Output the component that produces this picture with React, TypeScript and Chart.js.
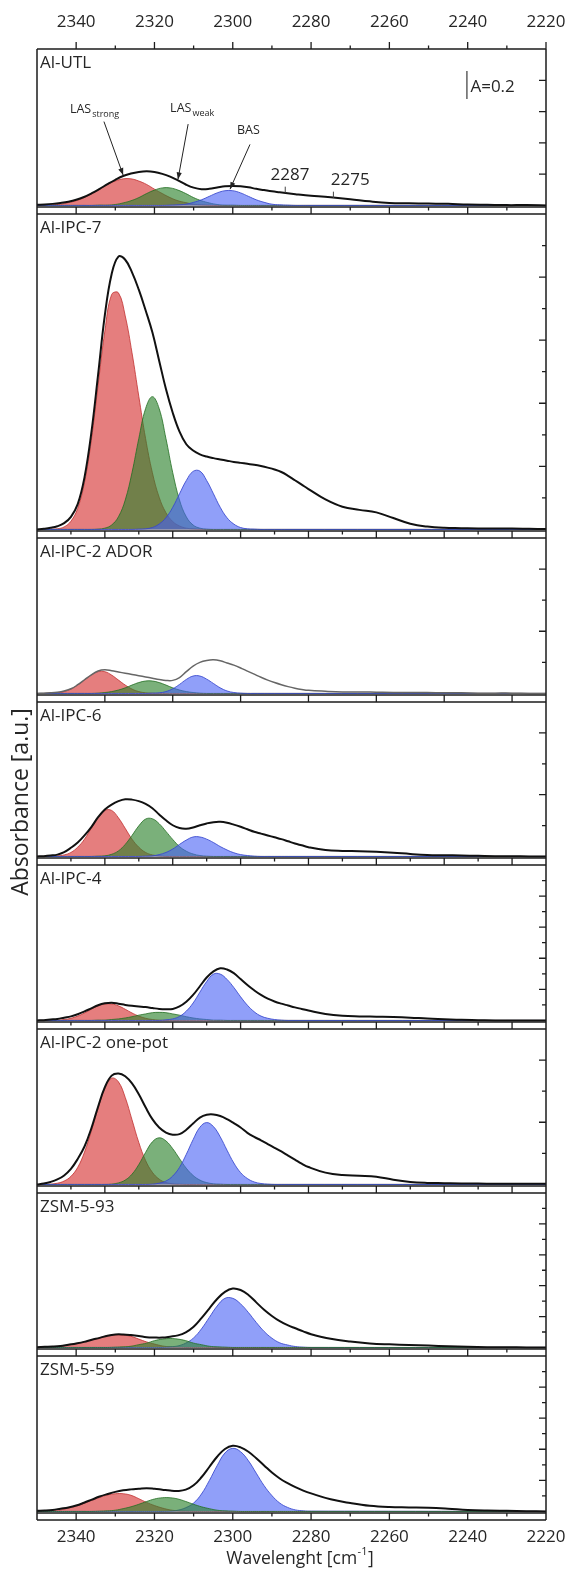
import React, { useEffect, useRef } from 'react';
import { Chart, registerables } from 'chart.js';

Chart.register(...registerables);

// ---------- wavenumber grids (cm-1) ----------
const GRID_A = [2350, 2348, 2346, 2344, 2342, 2340, 2338, 2336, 2334, 2332, 2330, 2328, 2326, 2324, 2322, 2320, 2318, 2316, 2314, 2312, 2310, 2308, 2306, 2304, 2302, 2300, 2298, 2296, 2294, 2292, 2290, 2288, 2286, 2284, 2282, 2280, 2220];
const GRID_B = [2360, 2358, 2356, 2354, 2352, 2350, 2348, 2346, 2344, 2342, 2340, 2338, 2336, 2334, 2332, 2330, 2328, 2326, 2324, 2322, 2320, 2318, 2316, 2314, 2312, 2310, 2308, 2306, 2304, 2302, 2300, 2298, 2296, 2294, 2292, 2290, 2288, 2286, 2210];
const TOTAL_GRID_A = [2350, 2348, 2346, 2344, 2342, 2340, 2338, 2336, 2334, 2332, 2330, 2328, 2326, 2324, 2322, 2320, 2318, 2316, 2314, 2312, 2310, 2308, 2306, 2304, 2302, 2300, 2298, 2296, 2294, 2292, 2290, 2288, 2286, 2284, 2282, 2280, 2275, 2270, 2265, 2260, 2255, 2250, 2245, 2240, 2235, 2230, 2225, 2220];
const TOTAL_GRID_B = [2360, 2358, 2356, 2354, 2352, 2350, 2348, 2346, 2344, 2342, 2340, 2338, 2336, 2334, 2332, 2330, 2328, 2326, 2324, 2322, 2320, 2318, 2316, 2314, 2312, 2310, 2308, 2306, 2304, 2302, 2300, 2298, 2296, 2294, 2292, 2290, 2288, 2286, 2284, 2282, 2280, 2275, 2270, 2265, 2260, 2255, 2250, 2245, 2240, 2235, 2230, 2225, 2220, 2215, 2210];

// ---------- Al-UTL ----------
const UTL_RED = [0, 0.01, 0.02, 0.04, 0.09, 0.15, 0.25, 0.38, 0.52, 0.67, 0.78, 0.85, 0.85, 0.78, 0.67, 0.52, 0.38, 0.25, 0.15, 0.09, 0.04, 0.02, 0.01, 0, 0, 0, 0, 0, 0, 0, 0, 0, 0, 0, 0, 0, 0];
const UTL_GREEN = [0, 0, 0, 0, 0, 0, 0, 0, 0.01, 0.01, 0.03, 0.08, 0.15, 0.25, 0.38, 0.49, 0.56, 0.56, 0.49, 0.38, 0.25, 0.15, 0.08, 0.03, 0.01, 0.01, 0, 0, 0, 0, 0, 0, 0, 0, 0, 0, 0];
const UTL_BLUE = [0, 0, 0, 0, 0, 0, 0, 0, 0, 0, 0, 0, 0, 0, 0, 0, 0, 0.01, 0.02, 0.04, 0.10, 0.18, 0.29, 0.40, 0.47, 0.47, 0.40, 0.29, 0.18, 0.10, 0.04, 0.02, 0.01, 0, 0, 0, 0];
const UTL_TOTAL = [0.02, 0.03, 0.05, 0.08, 0.12, 0.18, 0.27, 0.39, 0.53, 0.68, 0.82, 0.94, 1.02, 1.07, 1.09, 1.07, 1.01, 0.92, 0.80, 0.67, 0.57, 0.52, 0.53, 0.57, 0.61, 0.62, 0.61, 0.58, 0.53, 0.49, 0.45, 0.42, 0.39, 0.36, 0.33, 0.31, 0.26, 0.20, 0.13, 0.08, 0.07, 0.06, 0.05, 0.03, 0.02, 0.01, 0.01, 0];

// ---------- Al-IPC-7 ----------
const IPC7_RED = [0, 0, 0.01, 0.02, 0.08, 0.26, 0.67, 1.49, 2.82, 4.57, 6.29, 7.45, 7.50, 6.77, 5.60, 4.22, 2.88, 1.80, 1.02, 0.53, 0.25, 0.11, 0.04, 0.02, 0.01, 0, 0, 0, 0, 0, 0, 0, 0, 0, 0, 0, 0, 0, 0];
const IPC7_GREEN = [0, 0, 0, 0, 0, 0, 0, 0, 0, 0.01, 0.04, 0.14, 0.40, 0.93, 1.80, 2.88, 3.83, 4.21, 3.83, 2.88, 1.80, 0.93, 0.40, 0.14, 0.04, 0.01, 0, 0, 0, 0, 0, 0, 0, 0, 0, 0, 0, 0, 0];
const IPC7_BLUE = [0, 0, 0, 0, 0, 0, 0, 0, 0, 0, 0, 0, 0, 0, 0, 0.01, 0.02, 0.06, 0.17, 0.37, 0.70, 1.13, 1.55, 1.84, 1.85, 1.55, 1.13, 0.70, 0.37, 0.17, 0.06, 0.02, 0.01, 0, 0, 0, 0, 0, 0];
const IPC7_TOTAL = [0, 0.02, 0.05, 0.10, 0.20, 0.40, 0.80, 1.65, 3.05, 4.90, 6.80, 8.10, 8.65, 8.55, 8.15, 7.60, 6.95, 6.25, 5.35, 4.45, 3.70, 3.10, 2.70, 2.50, 2.38, 2.31, 2.26, 2.22, 2.18, 2.14, 2.11, 2.08, 2.05, 2.01, 1.96, 1.90, 1.82, 1.70, 1.56, 1.42, 1.28, 0.95, 0.72, 0.62, 0.54, 0.36, 0.18, 0.09, 0.05, 0.04, 0.03, 0.03, 0.03, 0.02, 0.01];

// ---------- Al-IPC-2 ADOR ----------
const ADOR_RED = [0, 0, 0.01, 0.02, 0.06, 0.14, 0.27, 0.43, 0.59, 0.70, 0.70, 0.59, 0.43, 0.27, 0.14, 0.06, 0.02, 0.01, 0, 0, 0, 0, 0, 0, 0, 0, 0, 0, 0, 0, 0, 0, 0, 0, 0, 0, 0, 0, 0];
const ADOR_GREEN = [0, 0, 0, 0, 0, 0, 0, 0, 0, 0.01, 0.03, 0.06, 0.11, 0.18, 0.27, 0.35, 0.40, 0.40, 0.35, 0.27, 0.18, 0.11, 0.06, 0.03, 0.01, 0, 0, 0, 0, 0, 0, 0, 0, 0, 0, 0, 0, 0, 0];
const ADOR_BLUE = [0, 0, 0, 0, 0, 0, 0, 0, 0, 0, 0, 0, 0, 0, 0, 0, 0, 0.01, 0.02, 0.06, 0.15, 0.29, 0.45, 0.56, 0.56, 0.46, 0.32, 0.18, 0.08, 0.03, 0.01, 0, 0, 0, 0, 0, 0, 0, 0];
const ADOR_TOTAL = [0, 0.01, 0.02, 0.04, 0.08, 0.15, 0.28, 0.44, 0.60, 0.72, 0.76, 0.73, 0.69, 0.65, 0.61, 0.57, 0.53, 0.49, 0.45, 0.42, 0.42, 0.51, 0.70, 0.88, 1.00, 1.06, 1.08, 1.05, 0.98, 0.91, 0.82, 0.72, 0.62, 0.52, 0.43, 0.35, 0.28, 0.22, 0.17, 0.13, 0.10, 0.07, 0.05, 0.05, 0.04, 0.03, 0.03, 0.03, 0.02, 0.02, 0.01, 0.01, 0.01, 0, 0];

// ---------- Al-IPC-6 ----------
const IPC6_RED = [0, 0, 0.01, 0.02, 0.05, 0.13, 0.30, 0.56, 0.91, 1.25, 1.49, 1.49, 1.25, 0.91, 0.56, 0.30, 0.13, 0.05, 0.02, 0, 0, 0, 0, 0, 0, 0, 0, 0, 0, 0, 0, 0, 0, 0, 0, 0, 0, 0, 0];
const IPC6_GREEN = [0, 0, 0, 0, 0, 0, 0, 0, 0, 0.01, 0.02, 0.07, 0.18, 0.39, 0.68, 0.99, 1.21, 1.22, 1.06, 0.81, 0.55, 0.32, 0.17, 0.08, 0.03, 0.01, 0, 0, 0, 0, 0, 0, 0, 0, 0, 0, 0, 0, 0];
const IPC6_BLUE = [0, 0, 0, 0, 0, 0, 0, 0, 0, 0, 0, 0, 0, 0, 0, 0, 0.01, 0.02, 0.06, 0.13, 0.24, 0.39, 0.53, 0.63, 0.63, 0.56, 0.45, 0.32, 0.21, 0.12, 0.06, 0.03, 0.01, 0, 0, 0, 0, 0, 0];
const IPC6_TOTAL = [0, 0.01, 0.03, 0.06, 0.14, 0.28, 0.45, 0.68, 0.95, 1.27, 1.52, 1.68, 1.79, 1.85, 1.84, 1.79, 1.70, 1.56, 1.36, 1.17, 1.01, 0.92, 0.90, 0.94, 1.01, 1.07, 1.11, 1.12, 1.09, 1.03, 0.96, 0.88, 0.80, 0.74, 0.68, 0.62, 0.56, 0.49, 0.42, 0.36, 0.30, 0.21, 0.18, 0.17, 0.15, 0.12, 0.08, 0.05, 0.04, 0.03, 0.02, 0.01, 0.01, 0, 0];

// ---------- Al-IPC-4 ----------
const IPC4_RED = [0, 0, 0, 0.01, 0.03, 0.07, 0.14, 0.24, 0.36, 0.47, 0.53, 0.53, 0.47, 0.36, 0.24, 0.14, 0.07, 0.03, 0.01, 0, 0, 0, 0, 0, 0, 0, 0, 0, 0, 0, 0, 0, 0, 0, 0, 0, 0, 0, 0];
const IPC4_GREEN = [0, 0, 0, 0, 0, 0, 0, 0, 0, 0.01, 0.01, 0.03, 0.05, 0.08, 0.12, 0.17, 0.21, 0.25, 0.26, 0.25, 0.21, 0.17, 0.12, 0.08, 0.05, 0.03, 0.01, 0.01, 0, 0, 0, 0, 0, 0, 0, 0, 0, 0, 0];
const IPC4_BLUE = [0, 0, 0, 0, 0, 0, 0, 0, 0, 0, 0, 0, 0, 0, 0, 0, 0, 0, 0, 0.02, 0.05, 0.13, 0.30, 0.56, 0.91, 1.25, 1.49, 1.49, 1.32, 1.06, 0.76, 0.49, 0.28, 0.14, 0.07, 0.03, 0.01, 0, 0];
const IPC4_TOTAL = [0, 0.01, 0.03, 0.05, 0.09, 0.13, 0.20, 0.29, 0.39, 0.49, 0.55, 0.57, 0.54, 0.50, 0.47, 0.45, 0.43, 0.40, 0.37, 0.36, 0.37, 0.45, 0.60, 0.82, 1.10, 1.38, 1.58, 1.68, 1.64, 1.52, 1.33, 1.14, 0.97, 0.82, 0.70, 0.61, 0.54, 0.48, 0.42, 0.37, 0.32, 0.21, 0.15, 0.13, 0.12, 0.11, 0.09, 0.06, 0.04, 0.02, 0.01, 0, 0, 0, 0];

// ---------- Al-IPC-2 one-pot ----------
const ONEPOT_RED = [0, 0, 0.01, 0.04, 0.11, 0.26, 0.55, 1.04, 1.71, 2.45, 3.09, 3.42, 3.30, 2.80, 2.08, 1.35, 0.77, 0.39, 0.17, 0.06, 0.02, 0.01, 0, 0, 0, 0, 0, 0, 0, 0, 0, 0, 0, 0, 0, 0, 0, 0, 0];
const ONEPOT_GREEN = [0, 0, 0, 0, 0, 0, 0, 0, 0, 0, 0, 0.01, 0.05, 0.14, 0.33, 0.64, 1.03, 1.37, 1.50, 1.40, 1.15, 0.83, 0.52, 0.29, 0.14, 0.06, 0.02, 0.01, 0, 0, 0, 0, 0, 0, 0, 0, 0, 0, 0];
const ONEPOT_BLUE = [0, 0, 0, 0, 0, 0, 0, 0, 0, 0, 0, 0, 0, 0, 0, 0, 0, 0.01, 0.04, 0.11, 0.27, 0.55, 0.97, 1.44, 1.84, 1.99, 1.86, 1.53, 1.10, 0.69, 0.38, 0.19, 0.08, 0.03, 0.01, 0, 0, 0, 0];
const ONEPOT_TOTAL = [0, 0.03, 0.08, 0.16, 0.29, 0.50, 0.82, 1.22, 1.80, 2.50, 3.13, 3.50, 3.57, 3.48, 3.25, 2.90, 2.48, 2.10, 1.83, 1.67, 1.60, 1.62, 1.76, 1.96, 2.15, 2.24, 2.25, 2.20, 2.10, 1.97, 1.83, 1.66, 1.53, 1.42, 1.30, 1.18, 1.06, 0.93, 0.80, 0.67, 0.56, 0.38, 0.30, 0.28, 0.25, 0.15, 0.08, 0.05, 0.04, 0.03, 0.03, 0.02, 0.02, 0.02, 0.02];

// ---------- ZSM-5-93 ----------
const ZSM93_RED = [0, 0.01, 0.02, 0.04, 0.08, 0.12, 0.18, 0.25, 0.31, 0.38, 0.41, 0.40, 0.36, 0.27, 0.18, 0.11, 0.05, 0.02, 0.01, 0, 0, 0, 0, 0, 0, 0, 0, 0, 0, 0, 0, 0, 0, 0, 0, 0, 0];
const ZSM93_GREEN = [0, 0, 0, 0, 0, 0, 0, 0, 0, 0, 0.01, 0.02, 0.04, 0.09, 0.14, 0.22, 0.27, 0.29, 0.27, 0.22, 0.14, 0.09, 0.04, 0.02, 0.01, 0, 0, 0, 0, 0, 0, 0, 0, 0, 0, 0, 0];
const ZSM93_BLUE = [0, 0, 0, 0, 0, 0, 0, 0, 0, 0, 0, 0, 0, 0, 0, 0, 0, 0.02, 0.05, 0.14, 0.31, 0.60, 0.97, 1.34, 1.59, 1.59, 1.41, 1.13, 0.81, 0.52, 0.30, 0.15, 0.08, 0.03, 0.01, 0, 0];
const ZSM93_TOTAL = [0.01, 0.02, 0.03, 0.05, 0.09, 0.13, 0.18, 0.25, 0.31, 0.38, 0.42, 0.42, 0.40, 0.37, 0.33, 0.32, 0.32, 0.35, 0.39, 0.49, 0.67, 0.95, 1.26, 1.57, 1.80, 1.91, 1.86, 1.70, 1.46, 1.22, 1.02, 0.85, 0.72, 0.62, 0.52, 0.43, 0.28, 0.19, 0.13, 0.10, 0.08, 0.06, 0.04, 0.02, 0.01, 0.01, 0, 0];

// ---------- ZSM-5-59 ----------
const ZSM59_RED = [0.01, 0.01, 0.03, 0.05, 0.11, 0.17, 0.26, 0.36, 0.45, 0.53, 0.57, 0.57, 0.52, 0.41, 0.29, 0.19, 0.11, 0.05, 0.02, 0.01, 0, 0, 0, 0, 0, 0, 0, 0, 0, 0, 0, 0, 0, 0, 0, 0, 0];
const ZSM59_GREEN = [0, 0, 0, 0, 0, 0, 0, 0, 0.01, 0.02, 0.04, 0.09, 0.15, 0.23, 0.32, 0.40, 0.44, 0.44, 0.40, 0.32, 0.23, 0.15, 0.09, 0.04, 0.02, 0.01, 0, 0, 0, 0, 0, 0, 0, 0, 0, 0, 0];
const ZSM59_BLUE = [0, 0, 0, 0, 0, 0, 0, 0, 0, 0, 0, 0, 0, 0, 0, 0, 0, 0.01, 0.04, 0.12, 0.27, 0.56, 0.99, 1.47, 1.88, 2.03, 1.92, 1.63, 1.23, 0.83, 0.51, 0.27, 0.13, 0.05, 0.02, 0.01, 0];
const ZSM59_TOTAL = [0.02, 0.03, 0.05, 0.09, 0.13, 0.19, 0.28, 0.38, 0.48, 0.56, 0.63, 0.68, 0.71, 0.73, 0.75, 0.73, 0.70, 0.67, 0.66, 0.70, 0.84, 1.10, 1.43, 1.76, 2.01, 2.11, 2.06, 1.92, 1.71, 1.48, 1.25, 1.06, 0.91, 0.78, 0.67, 0.58, 0.39, 0.27, 0.18, 0.14, 0.13, 0.12, 0.09, 0.05, 0.03, 0.02, 0.01, 0];

// ---------- labels ----------
const PANEL_NAMES = ['Al-UTL', 'Al-IPC-7', 'Al-IPC-2 ADOR', 'Al-IPC-6', 'Al-IPC-4', 'Al-IPC-2 one-pot', 'ZSM-5-93', 'ZSM-5-59'];
const X_TICK_LABELS = [2340, 2320, 2300, 2280, 2260, 2240, 2220];
const X_TITLE = 'Wavelenght [cm';
const X_TITLE_SUP = '-1';
const Y_TITLE = 'Absorbance [a.u.]';
const SCALE_LABEL = 'A=0.2';
const UTL_NOTES = [
  { main: 'LAS', sub: 'strong', x: 2341.6, y: 3.07, align: 'left', ax: 2332.9, ay: 2.68, bx: 2328.0, by: 0.97 },
  { main: 'LAS', sub: 'weak', x: 2316.0, y: 3.1, align: 'left', ax: 2311.4, ay: 2.6, bx: 2314.0, by: 0.83 },
  { main: 'BAS', sub: '', x: 2296.0, y: 2.41, align: 'center', ax: 2295.6, ay: 1.95, bx: 2300.7, by: 0.52 },
];
const UTL_BANDS = [
  { label: '2287', x: 2285.4, y: 0.96, mark: 2286.6, y0: 0.40, y1: 0.60 },
  { label: '2275', x: 2270.0, y: 0.80, mark: 2274.3, y0: 0.24, y1: 0.44 },
];

// ---------- layout / style ----------
const W = 572;
const H = 1571;
const FRAME_LEFT = 37;
const FRAME_RIGHT = 546;
const BAND = 7;
const FONT = "'Open Sans', 'Noto Sans', sans-serif";
const TEXT = '#262626';
const LINE = '#1d1d1d';
const RED = { fill: 'rgba(212,40,40,0.6)', line: 'rgba(190,40,40,0.75)' };
const GREEN = { fill: 'rgba(44,130,44,0.63)', line: 'rgba(34,110,34,0.8)' };
const BLUE = { fill: 'rgba(70,95,245,0.6)', line: 'rgba(55,70,205,0.85)' };

type Panel = {
  name: string; top: number; base: number; xMin: number; xMax: number; yMax: number;
  grid: number[]; red: number[]; green: number[]; blue: number[];
  totalGrid: number[]; total: number[]; totalColor: string; totalWidth: number;
  tickStep: number; longMod: number; greenOnTop?: boolean; majorOnly?: boolean;
};

const PANELS: Panel[] = [
  { name: PANEL_NAMES[0], top: 49, base: 207, xMin: 2220, xMax: 2350, yMax: 5, grid: GRID_A, red: UTL_RED, green: UTL_GREEN, blue: UTL_BLUE, totalGrid: TOTAL_GRID_A, total: UTL_TOTAL, totalColor: '#111', totalWidth: 2, tickStep: 1, longMod: 1 },
  { name: PANEL_NAMES[1], top: 214, base: 531, xMin: 2210, xMax: 2360, yMax: 10, grid: GRID_B, red: IPC7_RED, green: IPC7_GREEN, blue: IPC7_BLUE, totalGrid: TOTAL_GRID_B, total: IPC7_TOTAL, totalColor: '#111', totalWidth: 2, tickStep: 1, longMod: 2 },
  { name: PANEL_NAMES[2], top: 538, base: 695, xMin: 2210, xMax: 2360, yMax: 5, grid: GRID_B, red: ADOR_RED, green: ADOR_GREEN, blue: ADOR_BLUE, totalGrid: TOTAL_GRID_B, total: ADOR_TOTAL, totalColor: '#666', totalWidth: 1.5, tickStep: 1, longMod: 2, majorOnly: true },
  { name: PANEL_NAMES[3], top: 702, base: 858, xMin: 2210, xMax: 2360, yMax: 5, grid: GRID_B, red: IPC6_RED, green: IPC6_GREEN, blue: IPC6_BLUE, totalGrid: TOTAL_GRID_B, total: IPC6_TOTAL, totalColor: '#111', totalWidth: 2, tickStep: 1, longMod: 2 },
  { name: PANEL_NAMES[4], top: 865, base: 1022, xMin: 2210, xMax: 2360, yMax: 5, grid: GRID_B, red: IPC4_RED, green: IPC4_GREEN, blue: IPC4_BLUE, totalGrid: TOTAL_GRID_B, total: IPC4_TOTAL, totalColor: '#111', totalWidth: 2, tickStep: 0.5, longMod: 1 },
  { name: PANEL_NAMES[5], top: 1029, base: 1186, xMin: 2210, xMax: 2360, yMax: 5, grid: GRID_B, red: ONEPOT_RED, green: ONEPOT_GREEN, blue: ONEPOT_BLUE, totalGrid: TOTAL_GRID_B, total: ONEPOT_TOTAL, totalColor: '#111', totalWidth: 2, tickStep: 1, longMod: 2 },
  { name: PANEL_NAMES[6], top: 1193, base: 1349, xMin: 2220, xMax: 2350, yMax: 5, grid: GRID_A, red: ZSM93_RED, green: ZSM93_GREEN, blue: ZSM93_BLUE, totalGrid: TOTAL_GRID_A, total: ZSM93_TOTAL, totalColor: '#111', totalWidth: 2, tickStep: 0.5, longMod: 1, greenOnTop: true },
  { name: PANEL_NAMES[7], top: 1356, base: 1513, xMin: 2220, xMax: 2350, yMax: 5, grid: GRID_A, red: ZSM59_RED, green: ZSM59_GREEN, blue: ZSM59_BLUE, totalGrid: TOTAL_GRID_A, total: ZSM59_TOTAL, totalColor: '#111', totalWidth: 2, tickStep: 0.5, longMod: 1, greenOnTop: true },
];

function arrow(ctx: CanvasRenderingContext2D, x1: number, y1: number, x2: number, y2: number) {
  ctx.beginPath();
  ctx.moveTo(x1, y1);
  ctx.lineTo(x2, y2);
  ctx.stroke();
  const a = Math.atan2(y2 - y1, x2 - x1);
  const L = 7, w = 2.6;
  ctx.beginPath();
  ctx.moveTo(x2, y2);
  ctx.lineTo(x2 - L * Math.cos(a) + w * Math.sin(a), y2 - L * Math.sin(a) - w * Math.cos(a));
  ctx.lineTo(x2 - L * Math.cos(a) - w * Math.sin(a), y2 - L * Math.sin(a) + w * Math.cos(a));
  ctx.closePath();
  ctx.fill();
}

function drawDecor(chart: any, p: Panel, idx: number) {
  const ctx: CanvasRenderingContext2D = chart.ctx;
  const xs = chart.scales.x;
  const ys = chart.scales.y;
  const { left, right, top, bottom } = chart.chartArea;
  const last = idx === PANELS.length - 1;
  ctx.save();
  ctx.strokeStyle = LINE;
  ctx.fillStyle = TEXT;
  ctx.lineWidth = 1.5;
  ctx.beginPath();
  ctx.moveTo(left, top); ctx.lineTo(right, top);
  ctx.moveTo(left, bottom); ctx.lineTo(right, bottom);
  ctx.moveTo(left, top); ctx.lineTo(left, bottom + BAND);
  ctx.moveTo(right, top); ctx.lineTo(right, bottom + BAND);
  if (last) { ctx.moveTo(left, bottom + BAND); ctx.lineTo(right, bottom + BAND); }
  ctx.stroke();

  // x ticks in the band under the panel
  ctx.lineWidth = 1.3;
  ctx.beginPath();
  for (let v = p.xMin + 10; v < p.xMax; v += 10) {
    const major = v % 20 === 0;
    if (p.majorOnly && !major) continue;
    const x = xs.getPixelForValue(v);
    ctx.moveTo(x, bottom);
    ctx.lineTo(x, bottom + (major ? BAND : 3.5));
  }
  // right y ticks (inward)
  for (let k = 1; k * p.tickStep < p.yMax - 0.01; k++) {
    const v = k * p.tickStep;
    const r = v / p.longMod;
    const long = Math.abs(r - Math.round(r)) < 1e-6;
    const y = ys.getPixelForValue(v);
    ctx.moveTo(right, y);
    ctx.lineTo(right - (long ? 7 : 4), y);
  }
  ctx.stroke();

  // panel label
  ctx.font = `17px ${FONT}`;
  ctx.textAlign = 'left';
  ctx.textBaseline = 'middle';
  ctx.fillText(p.name, left + 3, top + 14);

  if (idx === 0) {
    // top axis ticks and labels
    ctx.beginPath();
    for (let v = p.xMin; v < p.xMax; v += 10) {
      const major = v % 20 === 0;
      const x = xs.getPixelForValue(v);
      ctx.moveTo(x, top);
      ctx.lineTo(x, top - (major ? 7 : 3.5));
    }
    ctx.stroke();
    ctx.font = `17px ${FONT}`;
    ctx.textAlign = 'center';
    ctx.textBaseline = 'middle';
    X_TICK_LABELS.forEach((v) => ctx.fillText(String(v), xs.getPixelForValue(v), 22));

    // scale bar
    ctx.strokeStyle = '#555';
    ctx.lineWidth = 1.4;
    ctx.beginPath();
    ctx.moveTo(xs.getPixelForValue(2240.2), ys.getPixelForValue(4.3));
    ctx.lineTo(xs.getPixelForValue(2240.2), ys.getPixelForValue(3.4));
    ctx.stroke();
    ctx.textAlign = 'left';
    ctx.fillText(SCALE_LABEL, xs.getPixelForValue(2239.3), ys.getPixelForValue(3.77));

    // annotations
    ctx.strokeStyle = '#222';
    ctx.fillStyle = '#222';
    ctx.lineWidth = 1;
    UTL_NOTES.forEach((n) => {
      ctx.font = `12.5px ${FONT}`;
      const mw = ctx.measureText(n.main).width;
      ctx.font = `9px ${FONT}`;
      const sw = n.sub ? ctx.measureText(n.sub).width + 1 : 0;
      let x = xs.getPixelForValue(n.x);
      if (n.align === 'center') x -= (mw + sw) / 2;
      const y = ys.getPixelForValue(n.y);
      ctx.textAlign = 'left';
      ctx.textBaseline = 'middle';
      ctx.font = `12.5px ${FONT}`;
      ctx.fillStyle = TEXT;
      ctx.fillText(n.main, x, y);
      if (n.sub) {
        ctx.font = `9px ${FONT}`;
        ctx.fillText(n.sub, x + mw + 1, y + 5);
      }
      ctx.fillStyle = '#222';
      arrow(ctx, xs.getPixelForValue(n.ax), ys.getPixelForValue(n.ay), xs.getPixelForValue(n.bx), ys.getPixelForValue(n.by));
    });
    ctx.font = `17px ${FONT}`;
    ctx.textAlign = 'center';
    ctx.fillStyle = TEXT;
    ctx.strokeStyle = '#444';
    ctx.lineWidth = 1;
    UTL_BANDS.forEach((b) => {
      ctx.fillText(b.label, xs.getPixelForValue(b.x), ys.getPixelForValue(b.y));
      ctx.beginPath();
      ctx.moveTo(xs.getPixelForValue(b.mark), ys.getPixelForValue(b.y0));
      ctx.lineTo(xs.getPixelForValue(b.mark), ys.getPixelForValue(b.y1));
      ctx.stroke();
    });

    // y title
    ctx.save();
    ctx.translate(21, 802);
    ctx.rotate(-Math.PI / 2);
    ctx.font = `23px ${FONT}`;
    ctx.textAlign = 'center';
    ctx.textBaseline = 'middle';
    ctx.fillStyle = TEXT;
    ctx.fillText(Y_TITLE, 0, 0);
    ctx.restore();
  }

  if (last) {
    ctx.fillStyle = TEXT;
    ctx.font = `17px ${FONT}`;
    ctx.textAlign = 'center';
    ctx.textBaseline = 'middle';
    X_TICK_LABELS.forEach((v) => ctx.fillText(String(v), xs.getPixelForValue(v), 1537));
    // x title with superscript
    ctx.font = `17.5px ${FONT}`;
    const w1 = ctx.measureText(X_TITLE).width;
    ctx.font = `11px ${FONT}`;
    const w2 = ctx.measureText(X_TITLE_SUP).width;
    ctx.font = `17.5px ${FONT}`;
    const w3 = ctx.measureText(']').width;
    const total = w1 + w2 + w3 + 1;
    const x0 = 300 - total / 2;
    ctx.textAlign = 'left';
    ctx.fillText(X_TITLE, x0, 1559);
    ctx.font = `11px ${FONT}`;
    ctx.fillText(X_TITLE_SUP, x0 + w1 + 0.5, 1552);
    ctx.font = `17.5px ${FONT}`;
    ctx.fillText(']', x0 + w1 + w2 + 1, 1559);
  }
  ctx.restore();
}

function buildConfig(p: Panel, idx: number): any {
  const comp = (vals: number[], c: { fill: string; line: string }) => ({
    data: p.grid.map((x, i) => ({ x, y: vals[i] })),
    borderColor: c.line,
    backgroundColor: c.fill,
    borderWidth: 1,
    fill: 'origin',
    pointRadius: 0,
    tension: 0.4,
  });
  const total = {
    data: p.totalGrid.map((x, i) => ({ x, y: p.total[i] })),
    borderColor: p.totalColor,
    borderWidth: p.totalWidth,
    fill: false,
    pointRadius: 0,
    tension: 0.4,
  };
  const datasets = p.greenOnTop
    ? [total, comp(p.green, GREEN), comp(p.blue, BLUE), comp(p.red, RED)]
    : [total, comp(p.blue, BLUE), comp(p.green, GREEN), comp(p.red, RED)];
  return {
    type: 'line',
    data: { datasets },
    options: {
      responsive: false,
      animation: false,
      devicePixelRatio: 1,
      events: [],
      layout: { padding: { left: FRAME_LEFT, right: W - FRAME_RIGHT, top: p.top, bottom: H - p.base } },
      scales: {
        x: { type: 'linear', min: p.xMin, max: p.xMax, reverse: true, display: false },
        y: { type: 'linear', min: -0.05, max: p.yMax, display: false },
      },
      plugins: { legend: { display: false }, tooltip: { enabled: false } },
    },
    plugins: [{ id: 'decor' + idx, afterDraw: (chart: any) => drawDecor(chart, p, idx) }],
  };
}

export default function App() {
  const refs = useRef<(HTMLCanvasElement | null)[]>([]);
  useEffect(() => {
    const charts = PANELS.map((p, i) => new Chart(refs.current[i] as HTMLCanvasElement, buildConfig(p, i)));
    return () => charts.forEach((c) => c.destroy());
  }, []);
  return (
    <div style={{ position: 'absolute', left: 0, top: 0, width: W, height: H, background: '#fff', overflow: 'hidden' }}>
      {PANELS.map((p, i) => (
        <canvas
          key={p.name}
          ref={(el) => { refs.current[i] = el; }}
          width={W}
          height={H}
          style={{ position: 'absolute', left: 0, top: 0, width: W, height: H }}
        />
      ))}
    </div>
  );
}
